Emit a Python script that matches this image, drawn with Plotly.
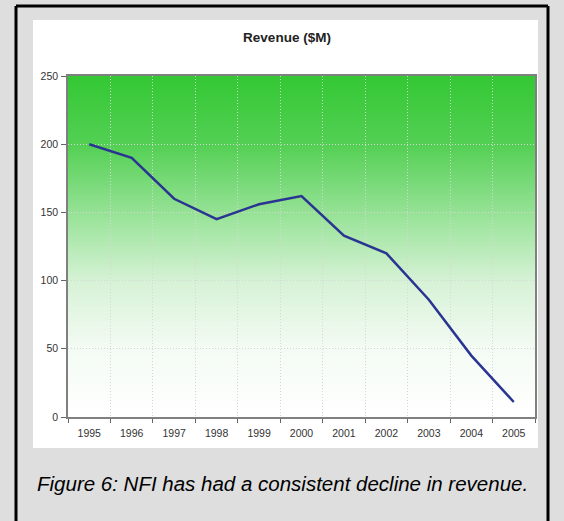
import base64, struct, zlib
import plotly.graph_objects as go

# ---------------- data ----------------
years = ["1995", "1996", "1997", "1998", "1999", "2000", "2001", "2002", "2003", "2004", "2005"]
revenue = [200, 190, 160, 145, 156, 162, 133, 120, 86, 45, 11]
y_ticks = [0, 50, 100, 150, 200, 250]
chart_title = "Revenue ($M)"
caption = "Figure 6: NFI has had a consistent decline in revenue."

# ---------------- geometry (pixels) ----------------
FW, FH = 564, 521
L, R, T, B = 68, 535, 76, 417   # plot area edges
PW, PH = R - L, B - T


def px(xp, yp):
    """pixel -> paper coordinates"""
    return (xp - L) / PW, (B - yp) / PH


def png_uri(rows):
    """rows: list of rows of (r,g,b) tuples -> data URI png"""
    h = len(rows)
    w = len(rows[0])
    raw = b"".join(b"\x00" + bytes([c for p in row for c in p]) for row in rows)

    def chunk(tag, data):
        c = struct.pack(">I", len(data)) + tag + data
        return c + struct.pack(">I", zlib.crc32(tag + data) & 0xFFFFFFFF)

    png = b"\x89PNG\r\n\x1a\n"
    png += chunk(b"IHDR", struct.pack(">IIBBBBB", w, h, 8, 2, 0, 0, 0))
    png += chunk(b"IDAT", zlib.compress(raw, 9))
    png += chunk(b"IEND", b"")
    return "data:image/png;base64," + base64.b64encode(png).decode()


# gradient green (top) -> white (bottom)
stops = [(0.0, (52, 200, 52)), (0.2, (84, 208, 84)), (0.4, (150, 226, 150)),
         (0.6, (214, 242, 214)), (0.8, (244, 251, 244)), (1.0, (255, 255, 255))]


def grad(t):
    for (t0, c0), (t1, c1) in zip(stops[:-1], stops[1:]):
        if t <= t1:
            f = (t - t0) / (t1 - t0)
            return tuple(int(round(a + (b - a) * f)) for a, b in zip(c0, c1))
    return stops[-1][1]


N = 200
grad_rows = [[grad(i / (N - 1))] * 2 for i in range(N)]
grad_uri = png_uri(grad_rows)
white_uri = png_uri([[(255, 255, 255)] * 2] * 2)

fig = go.Figure()
fig.add_trace(go.Scatter(
    x=years, y=revenue, mode="lines",
    line=dict(color="#2A3592", width=2.5),
    hoverinfo="x+y", showlegend=False,
))

# white panel and gradient plot background as images (below everything)
wx0, wy0 = px(33, 20)
wx1, wy1 = px(538, 448)
gx0, gy0 = px(L, T)
gx1, gy1 = px(R, B)
images = [
    dict(source=white_uri, xref="paper", yref="paper", x=wx0, y=wy0,
         sizex=wx1 - wx0, sizey=wy0 - wy1, sizing="stretch", layer="below",
         xanchor="left", yanchor="top"),
    dict(source=grad_uri, xref="paper", yref="paper", x=gx0, y=gy0,
         sizex=gx1 - gx0, sizey=gy0 - gy1, sizing="stretch", layer="below",
         xanchor="left", yanchor="top"),
]

# black frame (left, top, right)
bx0, by0 = px(16, 6)
bx1, by1 = px(548, 530)
shapes = [
    dict(type="line", xref="paper", yref="paper", x0=bx0, x1=bx0, y0=by0, y1=by1,
         line=dict(color="black", width=3), layer="above"),
    dict(type="line", xref="paper", yref="paper", x0=bx0, x1=bx1, y0=by0, y1=by0,
         line=dict(color="black", width=3), layer="above"),
    dict(type="line", xref="paper", yref="paper", x0=bx1, x1=bx1, y0=by0, y1=by1,
         line=dict(color="black", width=3), layer="above"),
]

cx, cy = px(35, 483)
annotations = [
    dict(text="<i>" + caption + "</i>", xref="paper", yref="paper", x=cx, y=cy,
         xanchor="left", yanchor="middle", showarrow=False,
         font=dict(family="Liberation Sans, Arial", size=20.5, color="#000000")),
]

fig.update_layout(
    width=FW, height=FH,
    margin=dict(l=L, r=FW - R, t=T, b=FH - B, pad=0),
    paper_bgcolor="#DEDEDE",
    plot_bgcolor="rgba(0,0,0,0)",
    images=images, shapes=shapes, annotations=annotations,
    title=dict(text="<b>" + chart_title + "</b>", xref="container", yref="container",
               x=287 / FW, y=1 - 37.5 / FH, xanchor="center", yanchor="middle",
               font=dict(family="Liberation Sans, Arial", size=13.5, color="#222222")),
    font=dict(family="Liberation Sans, Arial", size=10.5, color="#333333"),
    xaxis=dict(type="category", range=[-0.5, len(years) - 0.5], tickson="boundaries",
               ticks="outside", ticklen=4, tickcolor="#666666", ticklabelstandoff=6,
               showgrid=True, gridcolor="#D6D6D6", griddash="1px,2px", gridwidth=1,
               showline=True, linecolor="#808080", linewidth=1.5, mirror=True,
               fixedrange=True),
    yaxis=dict(range=[0, 250], tickvals=y_ticks, ticks="outside", ticklen=5,
               tickcolor="#666666", ticklabelstandoff=1,
               showgrid=True, gridcolor="#D6D6D6", griddash="1px,2px", gridwidth=1,
               zeroline=False,
               showline=True, linecolor="#808080", linewidth=1.5, mirror=True,
               fixedrange=True),
)

fig.write_html("out.html")
